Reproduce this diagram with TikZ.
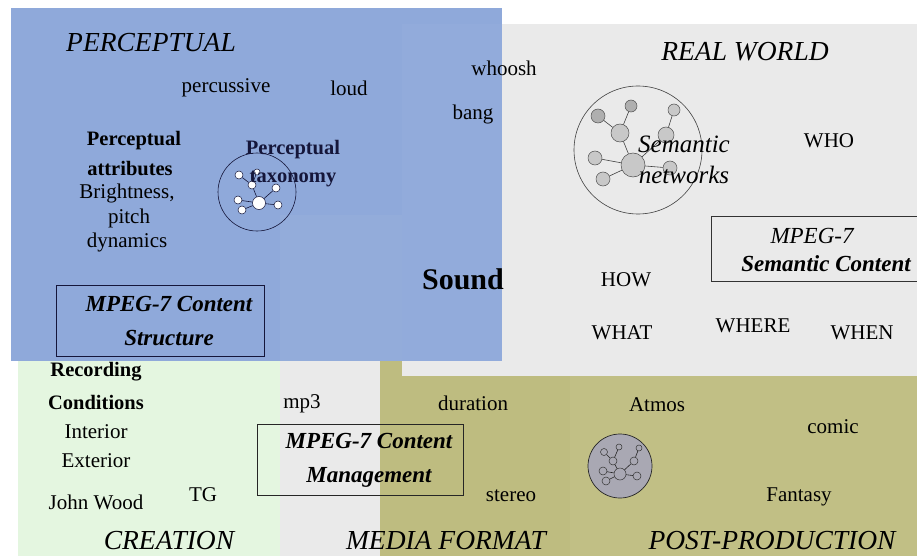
\documentclass[tikz,border=0pt]{standalone}
\usepackage{fontspec}
\setmainfont{Liberation Serif}
\definecolor{pblue}{HTML}{8FA9DA}
\definecolor{rgray}{HTML}{EAEAEA}
\definecolor{cgreen}{HTML}{E4F6E0}
\definecolor{molive}{HTML}{BEBC80}
\definecolor{ink}{HTML}{15163A}
\definecolor{sgray}{HTML}{C8C8C8}
\definecolor{sgrayd}{HTML}{AFAFAF}
\definecolor{agray}{HTML}{A9A8B3}
\begin{document}
\begin{tikzpicture}[x=1pt,y=-1pt,
  lbl/.style={font=\fontsize{21}{23}\selectfont, inner sep=0pt, text=black},
  bld/.style={font=\fontsize{20.5}{22}\selectfont\bfseries, inner sep=0pt, text=black},
  ttl/.style={font=\fontsize{27.5}{29}\selectfont\itshape, inner sep=0pt, text=black},
  mpg/.style={font=\fontsize{23}{34}\selectfont\bfseries\itshape, inner sep=0pt, align=center, text=black},
  frame/.style={draw=ink, line width=0.8pt, inner sep=0pt},
  pnode/.style={circle, draw=ink, fill=white, line width=0.5pt, inner sep=0pt},
  snode/.style={circle, draw=black!70, fill=sgray, line width=0.5pt, inner sep=0pt},
  anode/.style={circle, draw=black!80, fill=agray, line width=0.5pt, inner sep=0pt},
  edge/.style={line width=0.6pt}]
\useasboundingbox (0,0) rectangle (917,556);
\clip (0,0) rectangle (917,556);
\fill[white] (0,0) rectangle (917,556);
% regions
\fill[cgreen] (18,361) rectangle (280,556);
\fill[rgray] (280,361) rectangle (380,556);
\fill[molive] (380,361) rectangle (917,556);
\fill[molive!96!white] (570,361) rectangle (917,556);
\fill[rgray] (402,24) rectangle (917,376);
\fill[pblue] (11,8) rectangle (502,361);
\fill[rgray, opacity=0.05] (280,215) rectangle (402,361);
\fill[white, opacity=0.03] (402,24) rectangle (502,361);

% PERCEPTUAL area
\node[ttl] (perc) at (151,43) {PERCEPTUAL};
\node[lbl] (percussive) at (226,88) {percussive};
\node[lbl] (loud) at (349,88) {loud};
\node[bld] (pa1) at (134,141) {Perceptual};
\node[bld] (pa2) at (130,169) {attributes};
\node[lbl] (br) at (127,193) {Brightness,};
\node[lbl] (pitch) at (129,218) {pitch};
\node[lbl] (dyn) at (127,242) {dynamics};

% perceptual taxonomy graph
\node[circle, draw=ink, line width=0.6pt, minimum size=78pt, inner sep=0pt] (ptc) at (257,192) {};
\node[pnode, minimum size=13pt] (p0) at (259,203) {};
\node[pnode, minimum size=8pt] (p1) at (239,175) {};
\node[pnode, minimum size=6pt] (p2) at (257,172) {};
\node[pnode, minimum size=8pt] (p3) at (252,185) {};
\node[pnode, minimum size=8pt] (p4) at (276,188) {};
\node[pnode, minimum size=8pt] (p5) at (238,200) {};
\node[pnode, minimum size=8pt] (p6) at (242,210) {};
\node[pnode, minimum size=8pt] (p7) at (278,205) {};
\draw[edge, draw=ink] (p1) -- (p3) (p2) -- (p3) (p3) -- (p0) (p4) -- (p0) (p5) -- (p0) (p6) -- (p0) (p7) -- (p0);
\node[bld, text=ink] (pt1) at (293,150) {Perceptual};
\node[bld, text=ink] (pt2) at (293,179) {taxonomy};

% Sound etc.
\node[lbl] (whoosh) at (504,68) {whoosh};
\node[lbl] (bang) at (473,114) {bang};
\node[font=\fontsize{30}{31}\selectfont\bfseries, inner sep=0pt] (sound) at (463,279) {Sound};

\node[frame, minimum width=208pt, minimum height=71pt] (structbox) at (160,320.5) {};
\node[mpg] (structtxt) at (169,321) {MPEG-7 Content\\Structure};

% REAL WORLD
\node[ttl] (rw) at (745,52) {REAL WORLD};
\node[circle, draw=black!75, line width=0.6pt, minimum size=128pt, inner sep=0pt] (snc) at (638,150) {};
\node[snode, minimum size=24pt] (s0) at (633,165) {};
\node[snode, fill=sgrayd, minimum size=14pt] (s1) at (598,116) {};
\node[snode, fill=sgrayd, minimum size=12pt] (s2) at (631,106) {};
\node[snode, minimum size=18pt] (s3) at (620,133) {};
\node[snode, minimum size=12pt] (s4) at (674,110) {};
\node[snode, minimum size=16pt] (s5) at (666,135) {};
\node[snode, minimum size=14pt] (s6) at (595,158) {};
\node[snode, minimum size=14pt] (s7) at (603,179) {};
\node[snode, minimum size=14pt] (s8) at (670,168) {};
\draw[edge, draw=black!75] (s1) -- (s3) (s2) -- (s3) (s3) -- (s0) (s4) -- (s5) (s5) -- (s0) (s6) -- (s0) (s7) -- (s0) (s0) -- (s8);
\node[font=\fontsize{25}{31}\selectfont\itshape, inner sep=0pt, align=center] (semnet) at (684,160) {Semantic\\networks};

\node[lbl] (who) at (829,141) {WHO};
\draw[draw=black!80, line width=0.8pt] (930,216) -| (711,281) -- (930,281);
\node[font=\fontsize{23}{28}\selectfont\itshape, inner sep=0pt] (semc1) at (812,236) {MPEG-7};
\node[font=\fontsize{23}{28}\selectfont\bfseries\itshape, inner sep=0pt] (semc2) at (826,264) {Semantic Content};

\node[lbl] (how) at (626,280) {HOW};
\node[lbl] (what) at (622,333) {WHAT};
\node[lbl] (where) at (753,326) {WHERE};
\node[lbl] (when) at (862,333) {WHEN};

% CREATION
\node[bld] (rec1) at (96,372) {Recording};
\node[bld] (rec2) at (96,402) {Conditions};
\node[lbl] (interior) at (96,432) {Interior};
\node[lbl] (exterior) at (96,461) {Exterior};
\node[lbl] (jw) at (96,502) {John Wood};
\node[lbl] (tg) at (203,495) {TG};
\node[ttl] (creation) at (169,541) {CREATION};

% MEDIA FORMAT
\node[lbl] (mp3) at (302,404) {mp3};
\node[frame, draw=black!85, minimum width=206pt, minimum height=71pt] (mgmtbox) at (360,459.5) {};
\node[mpg] (mgmttxt) at (369,460) {MPEG-7 Content\\Management};
\node[lbl] (duration) at (473,403) {duration};
\node[lbl] (stereo) at (511,496) {stereo};
\node[ttl] (media) at (446,541) {MEDIA FORMAT};

% POST-PRODUCTION
\node[lbl] (atmos) at (657,405) {Atmos};
\node[lbl] (comic) at (833,427) {comic};
\node[lbl] (fantasy) at (799,497) {Fantasy};
\node[ttl] (post) at (772,541) {POST-PRODUCTION};

\node[circle, draw=black!85, fill=agray, line width=0.7pt, minimum size=64pt, inner sep=0pt] (atc) at (620,466) {};
\node[anode, minimum size=12pt] (a0) at (620,474) {};
\node[anode, minimum size=7pt] (a1) at (604,452) {};
\node[anode, minimum size=6pt] (a2) at (619,447) {};
\node[anode, minimum size=8pt] (a3) at (613,461) {};
\node[anode, minimum size=6pt] (a4) at (639,448) {};
\node[anode, minimum size=8pt] (a5) at (634,461) {};
\node[anode, minimum size=8pt] (a6) at (603,471) {};
\node[anode, minimum size=8pt] (a7) at (606,481) {};
\node[anode, minimum size=8pt] (a8) at (637,476) {};
\draw[edge, draw=black!85] (a1) -- (a3) (a2) -- (a3) (a3) -- (a0) (a4) -- (a5) (a5) -- (a0) (a6) -- (a0) (a7) -- (a0) (a0) -- (a8);
\end{tikzpicture}
\end{document}
